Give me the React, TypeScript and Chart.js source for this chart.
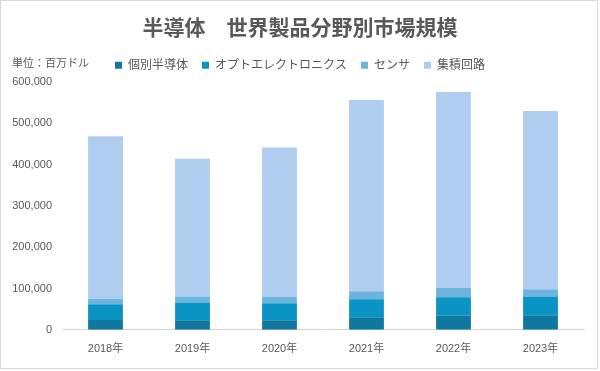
import React, { useEffect, useRef } from "react";
import { Chart, registerables } from "chart.js";

Chart.register(...registerables);

const categories = ["2018年", "2019年", "2020年", "2021年", "2022年", "2023年"];
const seriesNames = ["個別半導体", "オプトエレクトロニクス", "センサ", "集積回路"];
const discretes = [24000, 23000, 23000, 30500, 34000, 35500];
const opto = [38000, 43000, 41500, 43500, 45000, 45000];
const sensors = [13500, 14500, 15500, 19500, 22000, 18000];
const ics = [393500, 334000, 362000, 463500, 475000, 431500];
const seriesColors = ["#10789f", "#0a93c5", "#6cb4de", "#aecdef"];
const yMax = 600000;
const yStep = 100000;
const titleText = "半導体　世界製品分野別市場規模";
const unitText = "単位：百万ドル";

const FONT = "'Liberation Sans', 'Noto Sans CJK JP', sans-serif";
const TEXT = "#595959";

export default function App() {
  const ref = useRef<HTMLCanvasElement | null>(null);
  useEffect(() => {
    if (!ref.current) return;
    const values = [discretes, opto, sensors, ics];
    const extras = {
      id: "extras",
      beforeInit(chart: any) {
        const legend = chart.legend;
        if (legend) {
          const orig = legend.fit;
          legend.fit = function () {
            orig.call(legend);
            this.height += 1;
          };
        }
      },
      afterLayout(chart: any) {
        const y = chart.scales.y;
        if (y) y.left = 0;
      },
      afterDraw(chart: any) {
        const ctx = chart.ctx;
        ctx.save();
        ctx.font = `11px ${FONT}`;
        ctx.fillStyle = TEXT;
        ctx.textAlign = "left";
        ctx.textBaseline = "middle";
        ctx.fillText(unitText, 12, 64);
        ctx.strokeStyle = "#d9d9d9";
        ctx.lineWidth = 1;
        ctx.strokeRect(0.5, 0.5, 597, 368);
        ctx.restore();
      },
    };
    const chart = new Chart(ref.current, {
      type: "bar",
      data: {
        labels: categories,
        datasets: seriesNames.map((name, i) => ({
          label: name,
          data: values[i],
          backgroundColor: seriesColors[i],
          borderWidth: 0,
          barPercentage: 0.4,
          categoryPercentage: 1,
        })),
      },
      options: {
        responsive: false,
        animation: false,
        devicePixelRatio: 1,
        layout: { padding: { left: 16, right: 16, top: 0, bottom: 2 } },
        plugins: {
          title: {
            display: true,
            text: titleText,
            color: TEXT,
            font: { family: FONT, size: 21, weight: "bold" },
            padding: { top: 17, bottom: 3 },
          },
          legend: {
            display: true,
            position: "top",
            labels: {
              boxWidth: 7,
              boxHeight: 7,
              padding: 14,
              color: TEXT,
              font: { family: FONT, size: 12 },
            },
          },
          tooltip: { enabled: false },
        },
        scales: {
          x: {
            stacked: true,
            grid: { display: false, drawTicks: false },
            border: { display: true, color: "#d9d9d9", width: 1 },
            ticks: { color: TEXT, font: { family: FONT, size: 11 }, padding: 13 },
          },
          y: {
            stacked: true,
            min: 0,
            max: yMax,
            grid: { display: false, drawTicks: false },
            border: { display: false },
            ticks: {
              stepSize: yStep,
              color: TEXT,
              padding: 10,
              font: { family: FONT, size: 11 },
              callback: (v: any) => Number(v).toLocaleString("en-US"),
            },
            afterFit: (scale: any) => {
              scale.width = 46;
            },
          },
        },
      },
      plugins: [extras],
    });
    return () => chart.destroy();
  }, []);
  return (
    <div style={{ position: "fixed", left: 0, top: 0, width: 600, height: 371, background: "#fff" }}>
      <canvas ref={ref} width={600} height={371} />
    </div>
  );
}
